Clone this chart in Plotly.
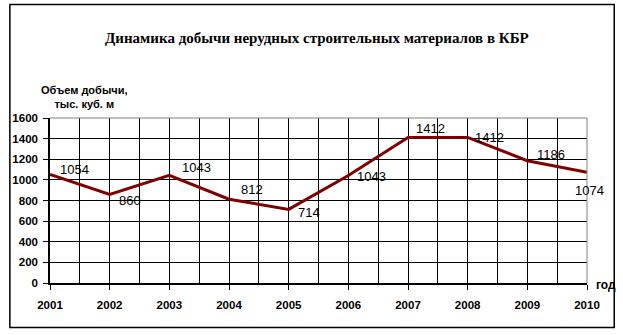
import plotly.graph_objects as go

years = [2001, 2002, 2003, 2004, 2005, 2006, 2007, 2008, 2009, 2010]
values = [1054, 860, 1043, 812, 714, 1043, 1412, 1412, 1186, 1074]
labels = ["1054", "860", "1043", "812", "714", "1043", "1412", "1412", "1186", "1074"]

# label offsets in pixels (right, down)
lab_dx = [24, 20, 27, 23, 20, 23, 22, 22, 24, 2]
lab_dy = [-5, 6, -8, -10, 3, 1, -9, 0, -6, 18]

title = "Динамика добычи нерудных строительных материалов в КБР"
ytitle = "Объем добычи,<br>тыс. куб. м"
xtitle = "год"

W, H = 623, 335
L, R, T, B = 45, 587, 118, 283
pw, ph = R - L, B - T

fig = go.Figure()
fig.add_trace(go.Scatter(x=years, y=values, mode="lines",
                         line=dict(color="#800000", width=3), hoverinfo="skip"))

for x, y, t, dx, dy in zip(years, values, labels, lab_dx, lab_dy):
    fig.add_annotation(x=x, y=y, text=t, showarrow=False, xshift=dx, yshift=-dy,
                       font=dict(family="Liberation Sans, Arial", size=13, color="black"))

def px(xp):
    return (xp - L) / pw

def py(yp):
    return (B - yp) / ph

fig.add_annotation(xref="paper", yref="paper", x=px(314), y=py(38), text="<b>" + title + "</b>",
                   showarrow=False, xanchor="center", yanchor="middle",
                   font=dict(family="Liberation Serif, Times New Roman", size=15, color="black"))
fig.add_annotation(xref="paper", yref="paper", x=px(80), y=py(97), text="<b>" + ytitle + "</b>",
                   showarrow=False, xanchor="center", yanchor="middle", align="center",
                   font=dict(family="Liberation Sans, Arial", size=11, color="black"))
fig.add_annotation(xref="paper", yref="paper", x=px(594), y=py(285), text="<b>" + xtitle + "</b>",
                   showarrow=False, xanchor="left", yanchor="middle",
                   font=dict(family="Liberation Sans, Arial", size=12, color="black"))

# plot area grey border (top, right)
fig.add_shape(type="line", xref="paper", yref="paper", x0=0, x1=1, y0=1, y1=1,
              line=dict(color="#808080", width=1), layer="above")
fig.add_shape(type="line", xref="paper", yref="paper", x0=1, x1=1, y0=0, y1=1,
              line=dict(color="#808080", width=1), layer="above")
# outer chart border
fig.add_shape(type="rect", xref="paper", yref="paper", x0=px(4.5), x1=px(614.5), y0=py(327.5), y1=py(4.5),
              line=dict(color="black", width=1.5), layer="above")

tickfont = dict(family="Liberation Sans, Arial", size=11.5, color="black", weight="bold")

fig.update_layout(
    width=W, height=H,
    margin=dict(l=L, r=W - R, t=T, b=H - B),
    paper_bgcolor="white", plot_bgcolor="white",
    showlegend=False,
    xaxis=dict(range=[2001, 2010], tickvals=years, ticktext=[str(y) for y in years],
               showgrid=True, gridcolor="black", gridwidth=1,
               minor=dict(tickvals=[y + 0.5 for y in years[:-1]], showgrid=True, gridcolor="black", gridwidth=1),
               showline=True, linecolor="black", linewidth=1.5,
               ticks="outside", ticklen=5, tickcolor="black", ticklabelstandoff=5,
               tickfont=tickfont, zeroline=False, fixedrange=True),
    yaxis=dict(range=[0, 1600], dtick=200, tick0=0,
               showgrid=True, gridcolor="black", gridwidth=1,
               showline=True, linecolor="black", linewidth=1.5,
               ticks="outside", ticklen=5, tickcolor="black", ticklabelstandoff=3,
               tickfont=tickfont, zeroline=False, fixedrange=True),
)

fig.write_html("out.html")
